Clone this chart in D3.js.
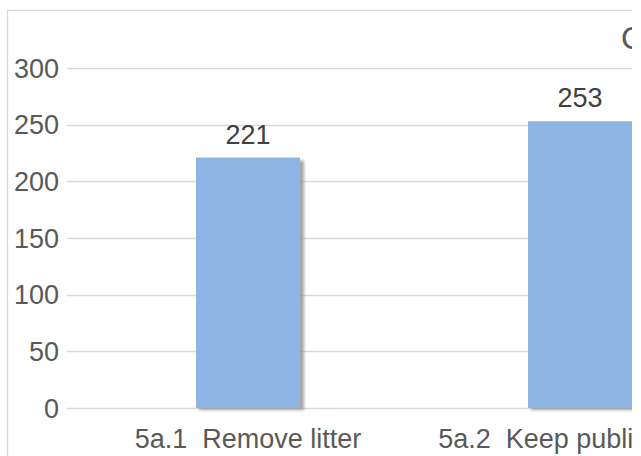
<!DOCTYPE html>
<html>
<head>
<meta charset="utf-8">
<script src="https://cdn.jsdelivr.net/npm/d3@7"></script>
<style>
  html, body { margin: 0; padding: 0; background: #fff; }
  svg { display: block; font-family: "Liberation Sans", Arial, sans-serif; }
</style>
</head>
<body>
<svg id="chart" width="641" height="456"></svg>
<script>
const categories = ["5a.1\u00a0 Remove litter", "5a.2\u00a0 Keep public areas"];
const values = [221, 253];
const yTicks = [0, 50, 100, 150, 200, 250, 300];
const titleText = "Count";

const svg = d3.select("#chart");
const W = 641, H = 456, visibleRight = 632;

const defs = svg.append("defs");
defs.append("clipPath").attr("id", "clip")
  .append("rect").attr("x", 0).attr("y", 0).attr("width", visibleRight).attr("height", H);
defs.append("filter").attr("id", "shadow")
  .attr("x", "-20%").attr("y", "-20%").attr("width", "140%").attr("height", "140%")
  .append("feGaussianBlur").attr("stdDeviation", 1.5);

const g = svg.append("g").attr("clip-path", "url(#clip)");

// frame
g.append("rect").attr("x", 7.5).attr("y", 10.5).attr("width", 900).attr("height", 600)
  .attr("fill", "#fff").attr("stroke", "#d9d9d9").attr("stroke-width", 1.3);

const y = d3.scaleLinear().domain([0, 300]).range([408, 68]);
const x = d3.scaleBand().domain(categories).range([82, 82 + 332 * categories.length]).padding(0);

// gridlines
g.append("g").selectAll("line").data(yTicks).join("line")
  .attr("x1", 67).attr("x2", 900)
  .attr("y1", d => Math.round(y(d)) + 0.5).attr("y2", d => Math.round(y(d)) + 0.5)
  .attr("stroke", "#d9d9d9").attr("stroke-width", 1.3);

// y labels
g.append("g").selectAll("text").data(yTicks).join("text")
  .attr("x", 59).attr("y", d => y(d) + 9.5)
  .attr("text-anchor", "end").attr("font-size", 27).attr("fill", "#595959")
  .text(d => d);

const barW = 104;
const bx = (c) => x(c) + x.bandwidth() / 2 - barW / 2;

// shadows
g.append("g").selectAll("rect").data(values).join("rect")
  .attr("x", (d, i) => bx(categories[i]) + 3)
  .attr("y", d => y(d) + 3)
  .attr("width", barW + 1)
  .attr("height", d => y(0) - y(d) - 1)
  .attr("fill", "#8f8f8f").attr("opacity", 0.8)
  .attr("filter", "url(#shadow)");

// bars
g.append("g").selectAll("rect").data(values).join("rect")
  .attr("x", (d, i) => bx(categories[i]))
  .attr("y", d => y(d))
  .attr("width", barW)
  .attr("height", d => y(0) - y(d))
  .attr("fill", "#8eb4e3");

// value labels
g.append("g").selectAll("text").data(values).join("text")
  .attr("x", (d, i) => x(categories[i]) + x.bandwidth() / 2)
  .attr("y", d => y(d) - 14)
  .attr("text-anchor", "middle").attr("font-size", 27).attr("fill", "#404040")
  .text(d => d);

// category labels
g.append("g").selectAll("text").data(categories).join("text")
  .attr("x", c => x(c) + x.bandwidth() / 2)
  .attr("y", 448)
  .attr("text-anchor", "middle").attr("font-size", 27).attr("fill", "#595959")
  .text(c => c);

// title (mostly cut off, as in the reference)
g.append("text").attr("x", 621).attr("y", 49)
  .attr("font-size", 32).attr("fill", "#595959")
  .text(titleText);
</script>
</body>
</html>
